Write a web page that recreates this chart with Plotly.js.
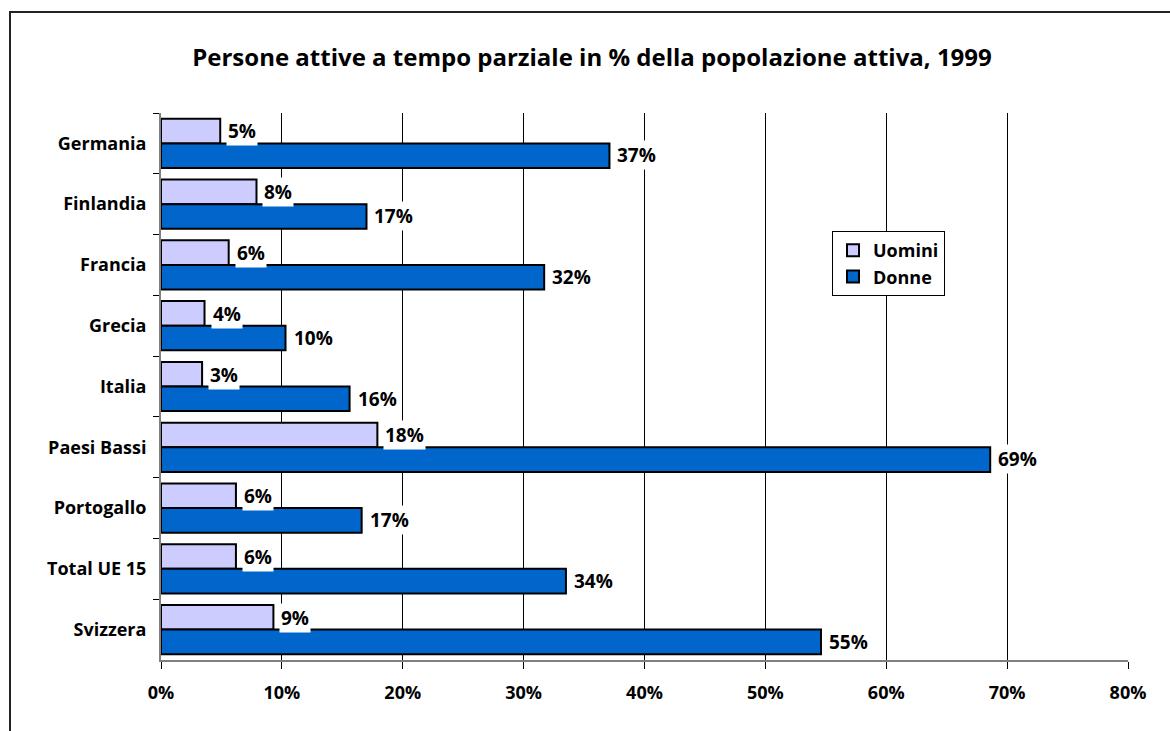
<!DOCTYPE html>
<html>
<head>
<meta charset="utf-8">
<script src="https://cdn.plot.ly/plotly-3.0.1.min.js"></script>
<style>
html,body{margin:0;padding:0;background:#fff;overflow:hidden;}
#wrap{position:relative;width:1170px;height:731px;overflow:hidden;}
#chart{width:1170px;height:731px;}
#frame{position:absolute;left:9px;top:11px;width:1200px;height:800px;border-left:2px solid #222;border-top:2px solid #222;pointer-events:none;}
</style>
</head>
<body>
<div id="wrap"><div id="chart"></div><div id="frame"></div></div>
<script>
const categories = ["Germania","Finlandia","Francia","Grecia","Italia","Paesi Bassi","Portogallo","Total UE 15","Svizzera"];
const uomini = [4.9, 7.9, 5.6, 3.6, 3.4, 17.9, 6.2, 6.2, 9.3];
const donne  = [37.1, 17.0, 31.7, 10.3, 15.6, 68.6, 16.6, 33.5, 54.6];
const seriesNames = ["Uomini","Donne"];
const xTickVals = [0,10,20,30,40,50,60,70,80];
const xTickText = ["0%","10%","20%","30%","40%","50%","60%","70%","80%"];
const titleText = "Persone attive a tempo parziale in % della popolazione attiva, 1999";

const FONT = "Open Sans, Noto Sans, DejaVu Sans, sans-serif";
const W = 1170, H = 731;
const M = {l:161, r:42, t:113, b:71};
const plotW = W - M.l - M.r, plotH = H - M.t - M.b;
const px2x = p => (p - M.l) / plotW;
const py2y = p => (H - M.b - p) / plotH;

const traces = [
  {type:'bar', orientation:'h', name:seriesNames[0], y:categories, x:uomini,
   marker:{color:'#CCCCFF', line:{color:'#000', width:2}}, hoverinfo:'x+y'},
  {type:'bar', orientation:'h', name:seriesNames[1], y:categories, x:donne,
   marker:{color:'#0066CC', line:{color:'#000', width:2}}, hoverinfo:'x+y'}
];

const annotations = [];
[uomini, donne].forEach((vals, si) => {
  vals.forEach((v, i) => {
    annotations.push({
      x: v, y: categories[i], xref:'x', yref:'y',
      text: Math.round(v) + '%', showarrow:false,
      xanchor:'left', yanchor:'middle', xshift:6, yshift: si === 0 ? 12 : -12,
      bgcolor:'#fff', borderpad:1,
      font:{family:FONT, size:19, color:'#000', weight:'bold'}
    });
  });
});

const layout = {
  width:W, height:H,
  margin:M,
  paper_bgcolor:'#fff', plot_bgcolor:'#fff',
  barmode:'group', bargap:0.19, bargroupgap:0,
  showlegend:true,
  title:{text:titleText, x:0.506, xref:'container', xanchor:'center',
         y:1-58/H, yref:'container', yanchor:'middle',
         font:{family:FONT, size:24, color:'#000', weight:'bold'}},
  xaxis:{range:[0,80], tickvals:xTickVals, ticktext:xTickText,
         showgrid:true, gridcolor:'#000', gridwidth:1, zeroline:false,
         ticks:'outside', ticklen:7, tickcolor:'#000', tickwidth:1,
         showline:true, linecolor:'#808080', linewidth:2,
         tickfont:{family:FONT, size:18, color:'#000', weight:'bold'},
         ticklabelstandoff:8, fixedrange:true},
  yaxis:{type:'category', autorange:'reversed',
         ticks:'outside', tickson:'boundaries', ticklen:6, tickcolor:'#000', tickwidth:1,
         showline:true, linecolor:'#808080', linewidth:2, showgrid:false,
         tickfont:{family:FONT, size:18, color:'#000', weight:'bold'},
         ticklabelstandoff:9, fixedrange:true},
  legend:{x:px2x(832), y:py2y(231), xanchor:'left', yanchor:'top',
          bgcolor:'#fff', bordercolor:'#000', borderwidth:1,
          font:{family:FONT, size:18, color:'#000', weight:'bold'},
          traceorder:'normal', itemwidth:30, tracegroupgap:0},
  annotations:annotations
};

Plotly.newPlot('chart', traces, layout, {displayModeBar:false, staticPlot:true});
</script>
</body>
</html>
